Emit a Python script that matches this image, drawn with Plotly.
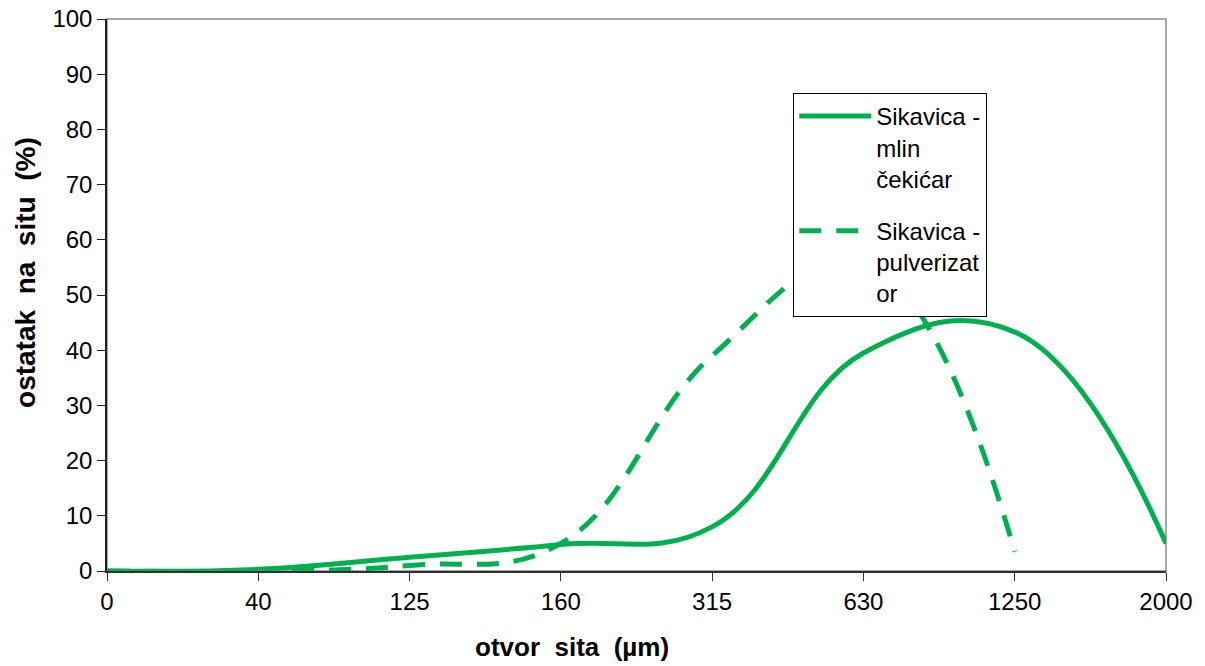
import plotly.graph_objects as go

categories = ["0", "40", "125", "160", "315", "630", "1250", "2000"]
mlin_cekicar = [0.0, 0.3, 2.5, 4.8, 8.0, 39.5, 43.3, 5.0]
pulverizator = [0.0, 0.0, 1.0, 5.0, 39.0, 56.0, 3.5]

x_title = "otvor  sita  (µm)"
y_title = "ostatak  na  situ  (%)"

green = "#00B050"
font_main = "Liberation Sans, Arial, sans-serif"

fig = go.Figure()
fig.add_trace(go.Scatter(
    x=categories, y=mlin_cekicar, mode="lines",
    name="Sikavica -<br>mlin<br>čekićar", legendgroup="a",
    line=dict(color=green, width=5, shape="spline", smoothing=1.2),
))
fig.add_trace(go.Scatter(
    x=categories[:len(pulverizator)], y=pulverizator, mode="lines",
    name="Sikavica -<br>pulverizat<br>or", legendgroup="b",
    line=dict(color=green, width=5, shape="spline", smoothing=1.2, dash="22px,15px"),
))

# light gray frame on top/right
fig.add_shape(type="rect", xref="paper", yref="paper", x0=0, y0=0, x1=1, y1=1,
              line=dict(color="#8c8c8c", width=1.5), layer="below")

# axis titles (positioned off-centre as in the original)
fig.add_annotation(text="<b>" + x_title + "</b>", xref="paper", yref="paper",
                   x=0.439, y=-0.1377, xanchor="center", yanchor="middle",
                   showarrow=False, font=dict(family=font_main, size=26, color="black"))
fig.add_annotation(text="<b>" + y_title + "</b>", xref="paper", yref="paper",
                   x=-0.0765, y=0.5417, xanchor="center", yanchor="middle", textangle=-90,
                   showarrow=False, font=dict(family=font_main, size=28, color="black"))

fig.update_layout(
    width=1205, height=666,
    margin=dict(l=107, r=39, t=19, b=95),
    paper_bgcolor="white", plot_bgcolor="white",
    showlegend=True,
    legend=dict(
        x=0.648, y=0.866, xanchor="left", yanchor="top",
        bgcolor="white", bordercolor="black", borderwidth=1,
        font=dict(family=font_main, size=24, color="black"),
        tracegroupgap=18, itemwidth=72, valign="top", traceorder="grouped",
    ),
    xaxis=dict(
        type="category", categoryorder="array", categoryarray=categories,
        range=[0, 7], showgrid=False, zeroline=False, automargin=False,
        showline=True, linecolor="#303030", linewidth=1.5,
        ticks="outside", ticklen=8, tickcolor="#303030", tickwidth=1,
        tickfont=dict(family=font_main, size=24, color="black"),
    ),
    yaxis=dict(
        range=[0, 100], dtick=10, showgrid=False, zeroline=False, automargin=False,
        showline=True, linecolor="#202020", linewidth=1.5,
        ticks="outside", ticklen=8, tickcolor="#202020", tickwidth=1,
        tickfont=dict(family=font_main, size=24, color="black"),
    ),
)

fig.write_html(
    "out.html",
    config={"displayModeBar": False},
    post_script="document.body.style.margin='0';document.body.style.overflow='hidden';",
)
